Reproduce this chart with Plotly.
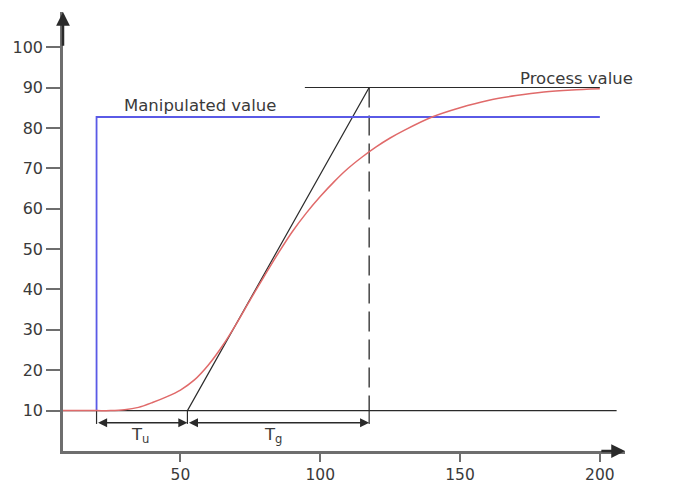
import plotly.graph_objects as go

# ---- data ----
time_s = [8, 20, 25, 30, 35, 40, 45, 50, 55, 60, 65, 70, 75, 80, 85, 90, 95,
          100, 105, 110, 115, 120, 125, 130, 140, 150, 160, 170, 180, 190, 200]
process_value = [10, 10, 10, 10.2, 10.8, 12, 13.4, 15.1, 17.6, 21.3, 26, 31.5,
                 37.5, 43.3, 49, 54.3, 58.9, 63.0, 66.7, 70.0, 72.8, 75.3, 77.5,
                 79.4, 82.7, 85.0, 86.8, 88.0, 88.9, 89.4, 89.7]
manip_x = [20, 20, 200]
manip_y = [10, 82.7, 82.7]
tangent_x = [52.5, 117.5]
tangent_y = [10, 90]
baseline_x = [8, 206]
baseline_y = [10, 10]
final_x = [94.5, 200]
final_y = [90, 90]
dashed_x = [117.5, 117.5]
dashed_y = [90, 10]
tu_span = [20, 52.5]
tg_span = [52.5, 117.5]
bracket_y = 7
y_ticks = [10, 20, 30, 40, 50, 60, 70, 80, 90, 100]
x_ticks = [50, 100, 150, 200]

FONT = "DejaVu Sans"
TXT = "#3a3a3a"
AX = "#6e6e6e"
BLK = "#2a2a2a"

fig = go.Figure()

def line(x, y, color, width, dash="solid"):
    fig.add_trace(go.Scatter(x=x, y=y, mode="lines", cliponaxis=False,
                             line=dict(color=color, width=width, dash=dash),
                             hoverinfo="skip", showlegend=False))

line(baseline_x, baseline_y, BLK, 1.2)
line(final_x, final_y, BLK, 1.2)
line(tangent_x, tangent_y, BLK, 1.2)
line(dashed_x, dashed_y, BLK, 1.3, dash="20px,8px")
# small solid ticks down to the bracket
for xv in [tu_span[0], tu_span[1], tg_span[1]]:
    line([xv, xv], [10, bracket_y - 0.3], BLK, 1.2)
line(manip_x, manip_y, "#5a5ae6", 1.8)
fig.add_trace(go.Scatter(x=time_s, y=process_value, mode="lines", cliponaxis=False,
                         line=dict(color="#e06a6a", width=1.5, shape="spline",
                                   smoothing=0.8),
                         hoverinfo="skip", showlegend=False))

anns = []
# bracket arrows
for a, b in [tu_span, tg_span]:
    anns.append(dict(x=b, y=bracket_y, ax=a, ay=bracket_y, xref="x", yref="y",
                     axref="x", ayref="y", text="", showarrow=True,
                     arrowside="end+start", arrowhead=2, startarrowhead=2,
                     arrowsize=1.3, startarrowsize=1.3, arrowwidth=1.4,
                     arrowcolor=BLK))
# axis arrows
anns.append(dict(x=8, y=108.7, ax=8, ay=100, xref="x", yref="y", axref="x",
                 ayref="y", text="", showarrow=True, arrowhead=2,
                 arrowsize=1.1, arrowwidth=2.5, arrowcolor=BLK))
anns.append(dict(x=209, y=0, ax=200, ay=0, xref="x", yref="y", axref="x",
                 ayref="y", text="", showarrow=True, arrowhead=2,
                 arrowsize=1.1, arrowwidth=2.5, arrowcolor=BLK))

def label(text, x, y, xanchor="center"):
    anns.append(dict(x=x, y=y, xref="x", yref="y", text=text, showarrow=False,
                     xanchor=xanchor, yanchor="middle",
                     font=dict(family=FONT, size=16.5, color=TXT)))

label("Manipulated value", 57, 85.6)
label("Process value", 191.5, 92.3)
label("time [sec]", 215, 3.2)
label("T<sub>u</sub>", 35.7, 3.8)
label("T<sub>g</sub>", 83, 3.8)

# page body has an 8px margin, so the figure is sized to fit the window
fig.update_layout(
    width=679, height=475,
    margin=dict(l=55, r=62, t=4, b=32),
    paper_bgcolor="white", plot_bgcolor="white",
    annotations=anns,
    font=dict(family=FONT, size=16, color=TXT),
    xaxis=dict(range=[8, 209], showgrid=False, zeroline=False, automargin=False,
               showline=True, linecolor=AX, linewidth=2.5,
               tickmode="array", tickvals=x_ticks,
               ticktext=[str(v) for v in x_ticks],
               ticks="outside", ticklen=8, tickwidth=1.5, tickcolor=AX,
               tickfont=dict(family=FONT, size=15.5, color=TXT)),
    yaxis=dict(range=[0, 108.7], showgrid=False, zeroline=False, automargin=False,
               showline=True, linecolor=AX, linewidth=2.5,
               tickmode="array", tickvals=y_ticks,
               ticktext=[str(v) for v in y_ticks],
               ticks="outside", ticklen=14, tickwidth=1.5, tickcolor=AX,
               tickfont=dict(family=FONT, size=16, color=TXT)),
)

fig.write_html("out.html")
